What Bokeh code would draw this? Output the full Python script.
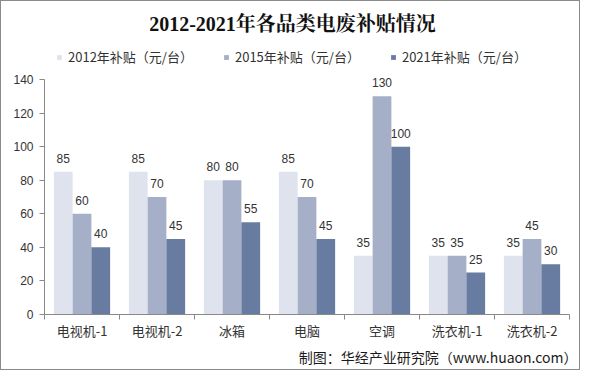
from bokeh.plotting import figure
from bokeh.models import (ColumnDataSource, Range1d, FixedTicker, Legend, LegendItem, Title, Label)
from bokeh.transform import dodge
from bokeh.core.properties import value
from bokeh.embed import file_html
from bokeh.resources import INLINE

categories = ["电视机-1", "电视机-2", "冰箱", "电脑", "空调", "洗衣机-1", "洗衣机-2"]
s2012 = [85, 85, 80, 85, 35, 35, 35]
s2015 = [60, 70, 80, 70, 130, 35, 45]
s2021 = [40, 45, 55, 45, 100, 25, 30]
series_names = ["2012年补贴（元/台）", "2015年补贴（元/台）", "2021年补贴（元/台）"]
y_ticks = [0, 20, 40, 60, 80, 100, 120, 140]
title_text = "2012-2021年各品类电废补贴情况"
source_text = "制图：华经产业研究院（www.huaon.com）"

colors = ["#DEE3ED", "#A5B0C8", "#687BA0"]
CJK = "'Noto Sans CJK SC'"

# layout (pixels)
W, H = 580, 370
LEFT, RIGHT, BOTTOM = 43, 12, 57
HEADER = 78          # space between figure top and the 140 line
FRAME_H = H - BOTTOM
Y_MAX = max(y_ticks)
y_top = Y_MAX * FRAME_H / (FRAME_H - HEADER)

xc = [i + 0.5 for i in range(len(categories))]
src = ColumnDataSource(dict(
    x=xc, cat=categories,
    s2012=s2012, s2015=s2015, s2021=s2021,
    l2012=[str(v) for v in s2012], l2015=[str(v) for v in s2015], l2021=[str(v) for v in s2021],
))

p = figure(width=W, height=H, output_backend="svg", toolbar_location=None,
           x_range=Range1d(0, len(categories)), y_range=Range1d(0, y_top),
           min_border_left=LEFT, min_border_right=RIGHT, min_border_top=0, min_border_bottom=BOTTOM)
p.styles = {"border": "1px solid #8a8a8a"}
p.outline_line_color = None
p.xgrid.visible = False
p.ygrid.visible = False
p.background_fill_color = "white"
p.border_fill_color = "white"

bar_w = 0.25
offsets = [-0.25, 0.0, 0.25]
keys = ["s2012", "s2015", "s2021"]
lkeys = ["l2012", "l2015", "l2021"]
items = []
for k, lk, off, c, nm in zip(keys, lkeys, offsets, colors, series_names):
    r = p.vbar(x=dodge("x", off, range=p.x_range), top=k, width=bar_w, bottom=0,
               source=src, fill_color=c, line_color=None)
    items.append(LegendItem(label=nm, renderers=[r]))
    p.text(x=dodge("x", off, range=p.x_range), y=k, text=lk, source=src,
           text_align="center", text_baseline="bottom", y_offset=-9,
           text_font=value("Liberation Sans"), text_font_size="12px", text_color="#333333")

legend = Legend(items=items, orientation="horizontal", location=(12, FRAME_H - 55 - 10),
                glyph_width=6, glyph_height=6, label_height=14, label_standoff=6,
                spacing=30, padding=3, margin=0,
                label_text_font=CJK, label_text_font_size="13px", label_text_color="#333333",
                border_line_color=None, background_fill_alpha=0)
p.add_layout(legend, "center")

title = Label(x=W / 2 - LEFT + 1, y=FRAME_H - 22,
              x_units="screen", y_units="screen", text=title_text,
              text_align="center", text_baseline="middle",
              text_font="'Liberation Serif', 'Noto Serif CJK SC', 'Noto Sans CJK SC', serif",
              text_font_size="20px", text_font_style="bold", text_color="#111111")
p.add_layout(title, "center")

# x axis
xa = p.xaxis[0]
xa.ticker = FixedTicker(ticks=xc, minor_ticks=list(range(len(categories) + 1)))
xa.major_label_overrides = {x: c for x, c in zip(xc, categories)}
xa.major_tick_line_color = None
xa.major_tick_out = 0
xa.major_tick_in = 0
xa.minor_tick_out = 5
xa.minor_tick_in = 0
xa.minor_tick_line_color = "#898989"
xa.axis_line_color = "#898989"
xa.major_label_text_font = CJK
xa.major_label_text_font_size = "13px"
xa.major_label_text_color = "#333333"
xa.major_label_standoff = 1

ya = p.yaxis[0]
ya.ticker = FixedTicker(ticks=y_ticks)
ya.bounds = (0, Y_MAX)
ya.minor_tick_line_color = None
ya.major_tick_out = 5
ya.major_tick_in = 0
ya.major_tick_line_color = "#898989"
ya.axis_line_color = "#898989"
ya.major_label_text_font = "Liberation Sans"
ya.major_label_text_font_size = "12px"
ya.major_label_text_color = "#333333"
ya.major_label_standoff = 6

foot = Title(text=source_text, align="right", offset=-8, standoff=4,
             text_font=CJK, text_font_size="14px",
             text_font_style="normal", text_color="#1a1a1a")
p.add_layout(foot, "below")

open("out.html", "w").write(file_html(p, INLINE))
